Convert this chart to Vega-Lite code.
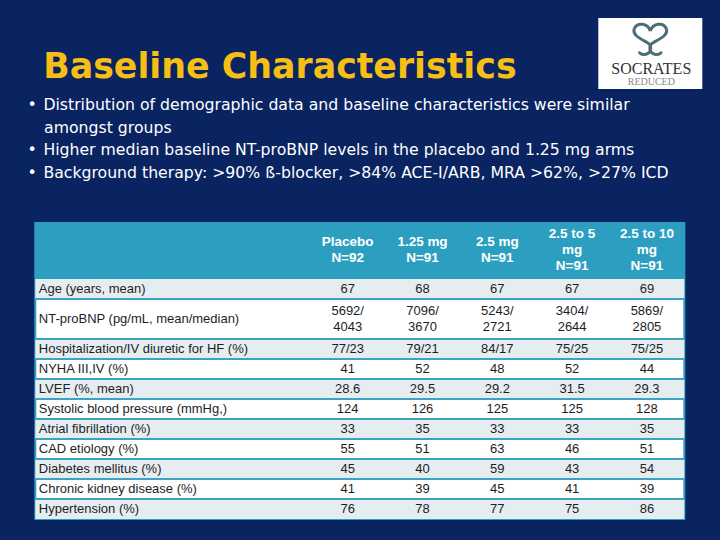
{
  "$schema": "https://vega.github.io/schema/vega-lite/v6.json",
  "background": "#0a2462",
  "padding": {"left": 27.3, "top": 17, "right": 18, "bottom": 23},
  "title": {
    "text": "\u200b\u00a0\u200aBaseline Characteristics",
    "subtitle": [
      "\u2022\u00a0\u200aDistribution of demographic data and baseline characteristics were similar",
      "\u200b\u00a0\u00a0\u00a0\u200aamongst groups",
      "\u2022\u00a0\u200aHigher median baseline NT-proBNP levels in the placebo and 1.25 mg arms",
      "\u2022\u00a0\u200aBackground therapy: >90% \u00df-blocker, >84% ACE-I/ARB, MRA >62%, >27% ICD"
    ],
    "anchor": "start",
    "frame": "group",
    "dx": -7.7,
    "font": "DejaVu Sans",
    "fontSize": 34.8,
    "fontWeight": "bold",
    "color": "#f7be16",
    "subtitleFont": "DejaVu Sans",
    "subtitleFontSize": 15.7,
    "subtitleColor": "#ffffff",
    "subtitleLineHeight": 22.8,
    "subtitlePadding": 12,
    "offset": -165
  },
  "datasets": {
    "groups": [
      {"key": "placebo", "header": "Placebo\nN=92"},
      {"key": "dose_1_25", "header": "1.25 mg\nN=91"},
      {"key": "dose_2_5", "header": "2.5 mg\nN=91"},
      {"key": "dose_2_5_to_5", "header": "2.5 to 5\nmg\nN=91"},
      {"key": "dose_2_5_to_10", "header": "2.5 to 10\nmg\nN=91"}
    ],
    "table": [
      {"characteristic": "Age (years, mean)", "placebo": "67", "dose_1_25": "68", "dose_2_5": "67", "dose_2_5_to_5": "67", "dose_2_5_to_10": "69"},
      {"characteristic": "NT-proBNP (pg/mL, mean/median)", "placebo": "5692/\n4043", "dose_1_25": "7096/\n3670", "dose_2_5": "5243/\n2721", "dose_2_5_to_5": "3404/\n2644", "dose_2_5_to_10": "5869/\n2805"},
      {"characteristic": "Hospitalization/IV diuretic for HF (%)", "placebo": "77/23", "dose_1_25": "79/21", "dose_2_5": "84/17", "dose_2_5_to_5": "75/25", "dose_2_5_to_10": "75/25"},
      {"characteristic": "NYHA III,IV (%)", "placebo": "41", "dose_1_25": "52", "dose_2_5": "48", "dose_2_5_to_5": "52", "dose_2_5_to_10": "44"},
      {"characteristic": "LVEF (%, mean)", "placebo": "28.6", "dose_1_25": "29.5", "dose_2_5": "29.2", "dose_2_5_to_5": "31.5", "dose_2_5_to_10": "29.3"},
      {"characteristic": "Systolic blood pressure (mmHg,)", "placebo": "124", "dose_1_25": "126", "dose_2_5": "125", "dose_2_5_to_5": "125", "dose_2_5_to_10": "128"},
      {"characteristic": "Atrial fibrillation (%)", "placebo": "33", "dose_1_25": "35", "dose_2_5": "33", "dose_2_5_to_5": "33", "dose_2_5_to_10": "35"},
      {"characteristic": "CAD etiology (%)", "placebo": "55", "dose_1_25": "51", "dose_2_5": "63", "dose_2_5_to_5": "46", "dose_2_5_to_10": "51"},
      {"characteristic": "Diabetes mellitus (%)", "placebo": "45", "dose_1_25": "40", "dose_2_5": "59", "dose_2_5_to_5": "43", "dose_2_5_to_10": "54"},
      {"characteristic": "Chronic kidney disease (%)", "placebo": "41", "dose_1_25": "39", "dose_2_5": "45", "dose_2_5_to_5": "41", "dose_2_5_to_10": "39"},
      {"characteristic": "Hypertension (%)", "placebo": "76", "dose_1_25": "78", "dose_2_5": "77", "dose_2_5_to_5": "75", "dose_2_5_to_10": "86"}
    ]
  },
  "spacing": 0,
  "vconcat": [
    {
      "width": 649,
      "height": 54,
      "view": {"fill": "#2c9fc1", "stroke": "#2c9fc1", "strokeWidth": 2},
      "layer": [
        {
          "data": {"name": "groups"},
          "transform": [{"filter": {"field": "key", "oneOf": ["placebo", "dose_1_25", "dose_2_5"]}}],
          "mark": {"type": "text", "lineBreak": "\n", "font": "Liberation Sans", "fontSize": 13.5, "fontWeight": "bold", "color": "#ffffff", "lineHeight": 16.5, "baseline": "middle", "align": "center", "dy": -8.25},
          "encoding": {
            "x": {"field": "key", "type": "nominal", "sort": null, "axis": null,
              "scale": {"domain": ["placebo", "dose_1_25", "dose_2_5", "dose_2_5_to_5", "dose_2_5_to_10"], "range": [275, 649], "paddingInner": 0, "paddingOuter": 0}},
            "text": {"field": "header"}
          }
        },
        {
          "data": {"name": "groups"},
          "transform": [{"filter": {"field": "key", "oneOf": ["dose_2_5_to_5", "dose_2_5_to_10"]}}],
          "mark": {"type": "text", "lineBreak": "\n", "font": "Liberation Sans", "fontSize": 13.5, "fontWeight": "bold", "color": "#ffffff", "lineHeight": 16.5, "baseline": "middle", "align": "center", "dy": -16.5},
          "encoding": {
            "x": {"field": "key", "type": "nominal", "sort": null, "axis": null,
              "scale": {"domain": ["placebo", "dose_1_25", "dose_2_5", "dose_2_5_to_5", "dose_2_5_to_10"], "range": [275, 649], "paddingInner": 0, "paddingOuter": 0}},
            "text": {"field": "header"}
          }
        },
        {
          "data": {"values": [{}]},
          "mark": {"type": "rect", "color": "#ffffff"},
          "encoding": {"x": {"value": 563}, "x2": {"value": 667}, "y": {"value": -205}, "y2": {"value": -134}}
        },
        {
          "data": {"values": [{}]},
          "mark": {"type": "point", "shape": "M 0 -0.5 C -0.15 -0.95 -0.75 -1.0 -0.9 -0.6 C -1.0 -0.25 -0.5 -0.05 -0.15 0.15 C 0.15 0.35 0.05 0.75 -0.3 0.8 C -0.5 0.82 -0.62 0.74 -0.58 0.64 M 0 -0.5 C 0.15 -0.95 0.75 -1.0 0.9 -0.6 C 1.0 -0.25 0.5 -0.05 0.15 0.15 C -0.15 0.35 -0.05 0.75 0.3 0.8 C 0.5 0.82 0.62 0.74 0.58 0.64", "size": 1296, "filled": false, "stroke": "#4d6d79", "strokeWidth": 3, "opacity": 1},
          "encoding": {"x": {"value": 615}, "y": {"value": -183}}
        },
        {
          "data": {"values": [{"t": "SOCRATES"}]},
          "mark": {"type": "text", "font": "Liberation Serif", "fontSize": 16, "color": "#333333", "align": "center", "baseline": "middle"},
          "encoding": {"x": {"value": 616}, "y": {"value": -154}, "text": {"field": "t"}}
        },
        {
          "data": {"values": [{"t": "REDUCED"}]},
          "mark": {"type": "text", "font": "Liberation Serif", "fontSize": 10, "color": "#8a8a8a", "align": "center", "baseline": "middle"},
          "encoding": {"x": {"value": 616}, "y": {"value": -141}, "text": {"field": "t"}}
        }
      ]
    },
    {
      "width": 649,
      "height": 240,
      "view": {"fill": "#ffffff", "stroke": "#2c9fc1", "strokeWidth": 2},
      "data": {"name": "table"},
      "layer": [
        {
          "transform": [{"filter": {"field": "characteristic", "oneOf": ["Age (years, mean)", "Hospitalization/IV diuretic for HF (%)", "LVEF (%, mean)", "Atrial fibrillation (%)", "Diabetes mellitus (%)", "Hypertension (%)"]}}],
          "mark": {"type": "rect", "color": "#e6edf1"},
          "encoding": {
            "y": {"field": "characteristic", "type": "nominal", "axis": null,
              "scale": {"domain": ["Age (years, mean)", "NT-proBNP (pg/mL, mean/median)", "NT-proBNP second line", "Hospitalization/IV diuretic for HF (%)", "NYHA III,IV (%)", "LVEF (%, mean)", "Systolic blood pressure (mmHg,)", "Atrial fibrillation (%)", "CAD etiology (%)", "Diabetes mellitus (%)", "Chronic kidney disease (%)", "Hypertension (%)"], "paddingInner": 0, "paddingOuter": 0}}
          }
        },
        {
          "transform": [{"filter": {"not": {"field": "characteristic", "equal": "Age (years, mean)"}}}],
          "mark": {"type": "rule", "color": "#3ea2c2", "strokeWidth": 2},
          "encoding": {
            "y": {"field": "characteristic", "type": "nominal", "bandPosition": 0, "axis": null,
              "scale": {"domain": ["Age (years, mean)", "NT-proBNP (pg/mL, mean/median)", "NT-proBNP second line", "Hospitalization/IV diuretic for HF (%)", "NYHA III,IV (%)", "LVEF (%, mean)", "Systolic blood pressure (mmHg,)", "Atrial fibrillation (%)", "CAD etiology (%)", "Diabetes mellitus (%)", "Chronic kidney disease (%)", "Hypertension (%)"], "paddingInner": 0, "paddingOuter": 0}}
          }
        },
        {
          "transform": [{"filter": {"not": {"field": "characteristic", "equal": "NT-proBNP (pg/mL, mean/median)"}}}],
          "mark": {"type": "text", "font": "Liberation Sans", "fontSize": 13, "color": "#1e1e1e", "align": "left", "baseline": "middle", "dx": 3.5},
          "encoding": {
            "x": {"value": 0},
            "y": {"field": "characteristic", "type": "nominal", "axis": null,
              "scale": {"domain": ["Age (years, mean)", "NT-proBNP (pg/mL, mean/median)", "NT-proBNP second line", "Hospitalization/IV diuretic for HF (%)", "NYHA III,IV (%)", "LVEF (%, mean)", "Systolic blood pressure (mmHg,)", "Atrial fibrillation (%)", "CAD etiology (%)", "Diabetes mellitus (%)", "Chronic kidney disease (%)", "Hypertension (%)"], "paddingInner": 0, "paddingOuter": 0}},
            "text": {"field": "characteristic"}
          }
        },
        {
          "transform": [{"filter": {"field": "characteristic", "equal": "NT-proBNP (pg/mL, mean/median)"}}],
          "mark": {"type": "text", "font": "Liberation Sans", "fontSize": 13, "color": "#1e1e1e", "align": "left", "baseline": "middle", "dx": 3.5},
          "encoding": {
            "x": {"value": 0},
            "y": {"field": "characteristic", "type": "nominal", "bandPosition": 1, "axis": null,
              "scale": {"domain": ["Age (years, mean)", "NT-proBNP (pg/mL, mean/median)", "NT-proBNP second line", "Hospitalization/IV diuretic for HF (%)", "NYHA III,IV (%)", "LVEF (%, mean)", "Systolic blood pressure (mmHg,)", "Atrial fibrillation (%)", "CAD etiology (%)", "Diabetes mellitus (%)", "Chronic kidney disease (%)", "Hypertension (%)"], "paddingInner": 0, "paddingOuter": 0}},
            "text": {"field": "characteristic"}
          }
        },
        {
          "transform": [
            {"filter": {"not": {"field": "characteristic", "equal": "NT-proBNP (pg/mL, mean/median)"}}},
            {"fold": ["placebo", "dose_1_25", "dose_2_5", "dose_2_5_to_5", "dose_2_5_to_10"], "as": ["key", "value"]}
          ],
          "mark": {"type": "text", "font": "Liberation Sans", "fontSize": 13, "color": "#1e1e1e", "align": "center", "baseline": "middle"},
          "encoding": {
            "x": {"field": "key", "type": "nominal", "axis": null,
              "scale": {"domain": ["placebo", "dose_1_25", "dose_2_5", "dose_2_5_to_5", "dose_2_5_to_10"], "range": [275, 649], "paddingInner": 0, "paddingOuter": 0}},
            "y": {"field": "characteristic", "type": "nominal", "axis": null,
              "scale": {"domain": ["Age (years, mean)", "NT-proBNP (pg/mL, mean/median)", "NT-proBNP second line", "Hospitalization/IV diuretic for HF (%)", "NYHA III,IV (%)", "LVEF (%, mean)", "Systolic blood pressure (mmHg,)", "Atrial fibrillation (%)", "CAD etiology (%)", "Diabetes mellitus (%)", "Chronic kidney disease (%)", "Hypertension (%)"], "paddingInner": 0, "paddingOuter": 0}},
            "text": {"field": "value"}
          }
        },
        {
          "transform": [
            {"filter": {"field": "characteristic", "equal": "NT-proBNP (pg/mL, mean/median)"}},
            {"fold": ["placebo", "dose_1_25", "dose_2_5", "dose_2_5_to_5", "dose_2_5_to_10"], "as": ["key", "value"]}
          ],
          "mark": {"type": "text", "font": "Liberation Sans", "fontSize": 13, "color": "#1e1e1e", "align": "center", "baseline": "middle", "lineBreak": "\n", "lineHeight": 16.5, "dy": -8.25},
          "encoding": {
            "x": {"field": "key", "type": "nominal", "axis": null,
              "scale": {"domain": ["placebo", "dose_1_25", "dose_2_5", "dose_2_5_to_5", "dose_2_5_to_10"], "range": [275, 649], "paddingInner": 0, "paddingOuter": 0}},
            "y": {"field": "characteristic", "type": "nominal", "bandPosition": 1, "axis": null,
              "scale": {"domain": ["Age (years, mean)", "NT-proBNP (pg/mL, mean/median)", "NT-proBNP second line", "Hospitalization/IV diuretic for HF (%)", "NYHA III,IV (%)", "LVEF (%, mean)", "Systolic blood pressure (mmHg,)", "Atrial fibrillation (%)", "CAD etiology (%)", "Diabetes mellitus (%)", "Chronic kidney disease (%)", "Hypertension (%)"], "paddingInner": 0, "paddingOuter": 0}},
            "text": {"field": "value"}
          }
        }
      ]
    }
  ]
}
